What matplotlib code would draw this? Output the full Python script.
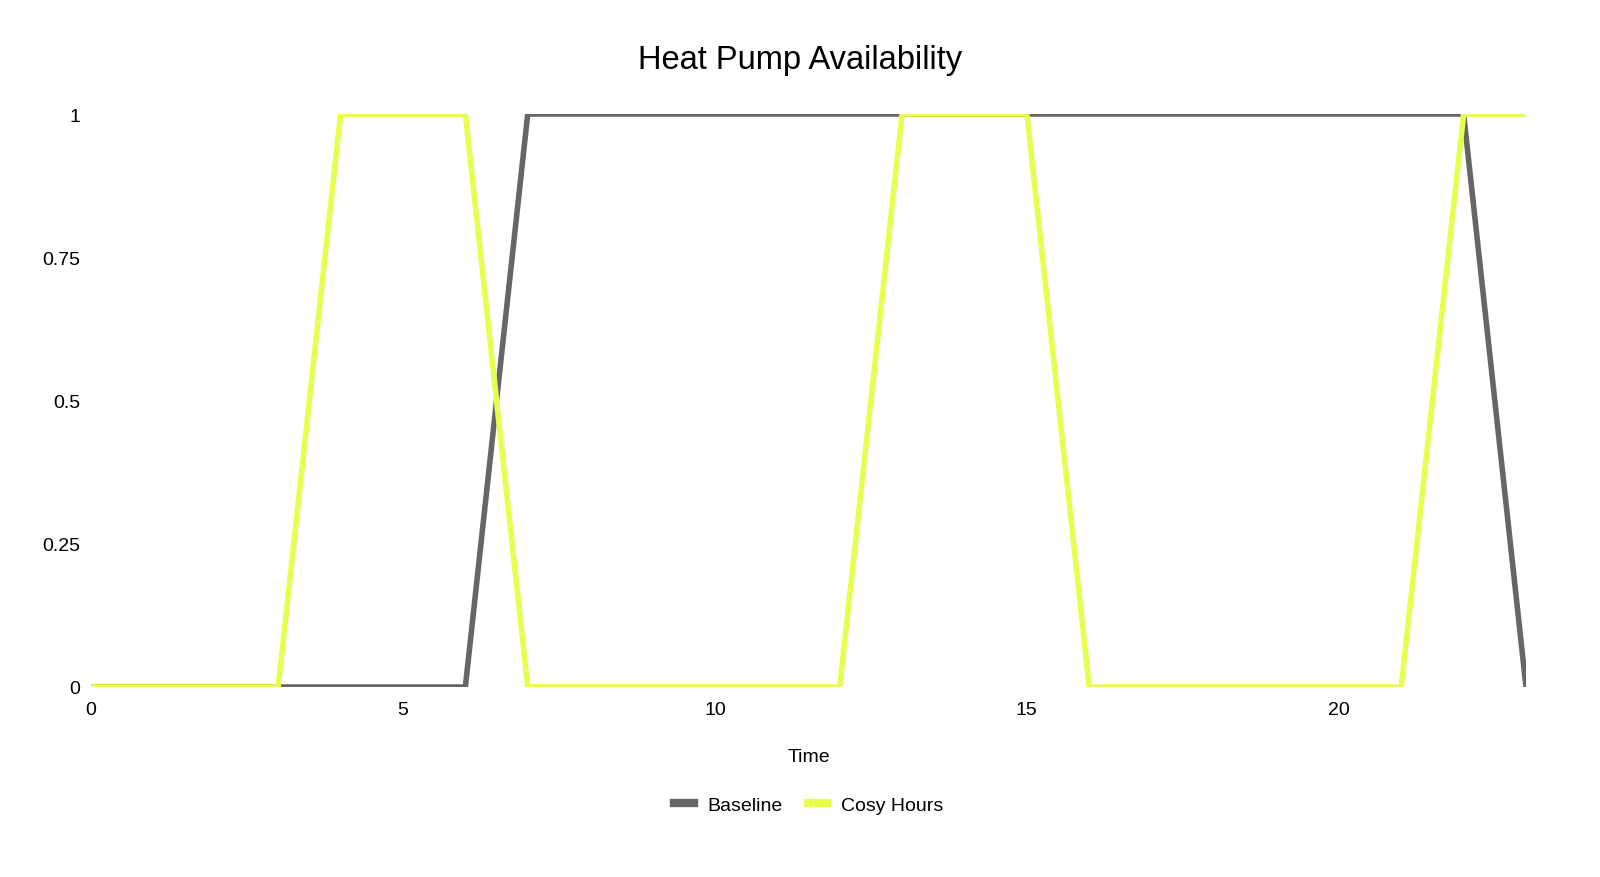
import numpy as np
import matplotlib.pyplot as plt
from matplotlib.ticker import FixedLocator, FixedFormatter

plt.rcParams['font.family'] = ['Liberation Sans', 'DejaVu Sans']

# Hourly availability (0 = off, 1 = on)
hours = list(range(24))
baseline = [0, 0, 0, 0, 0, 0, 0, 1, 1, 1, 1, 1, 1, 1, 1, 1, 1, 1, 1, 1, 1, 1, 1, 0]
cosy_hours = [0, 0, 0, 0, 1, 1, 1, 0, 0, 0, 0, 0, 0, 1, 1, 1, 0, 0, 0, 0, 0, 0, 1, 1]

y_ticks = [0, 0.25, 0.5, 0.75, 1]
y_labels = ['0', '0.25', '0.5', '0.75', '1']

fig = plt.figure(figsize=(16, 8.78), dpi=100)
ax = fig.add_axes([91/1600, 190/878, (1526-91)/1600, (763-190)/878])

ax.plot(hours, baseline, color='#666666', lw=4, label='Baseline', solid_joinstyle='miter')
ax.plot(hours, cosy_hours, color='#e9ff50', lw=4, label='Cosy Hours', solid_joinstyle='miter')

ax.set_xlim(0, 23)
ax.set_ylim(0, 1)
ax.set_xticks([0, 5, 10, 15, 20])
ax.yaxis.set_major_locator(FixedLocator(y_ticks))
ax.yaxis.set_major_formatter(FixedFormatter(y_labels))
ax.tick_params(axis='x', length=0, labelsize=14, pad=10)
ax.tick_params(axis='y', length=0, labelsize=14, pad=8)
for s in ax.spines.values():
    s.set_visible(False)

ax.set_xlabel('Time', fontsize=14, labelpad=22)
fig.text(0.5, 1 - 61/878, 'Heat Pump Availability', ha='center', va='center', fontsize=23.5)

ax.legend(loc='center', bbox_to_anchor=(0.5, -(806 - 688)/573), ncol=2, frameon=False,
          fontsize=14, handlelength=1.0, columnspacing=1.3, handletextpad=0.7)
leg = ax.get_legend()
for h in leg.get_lines():
    h.set_linewidth(6)

fig.savefig('out.png', dpi=100)
